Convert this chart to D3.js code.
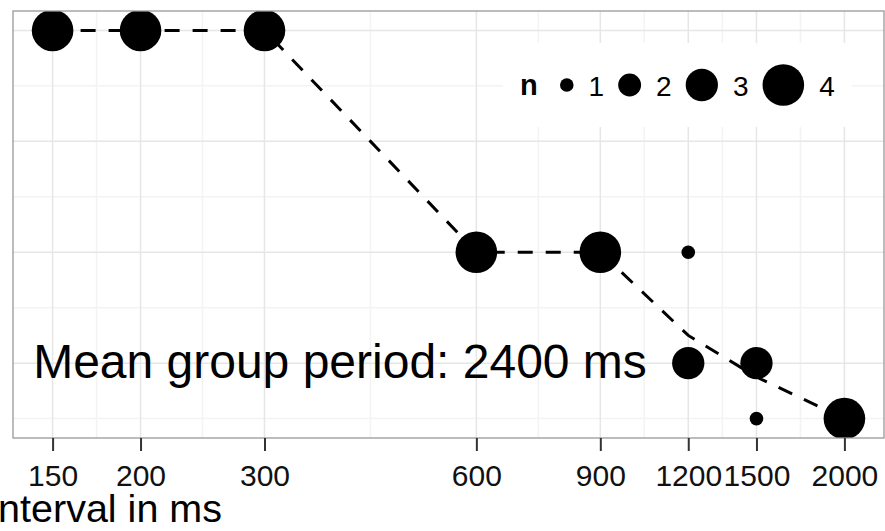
<!DOCTYPE html>
<html>
<head>
<meta charset="utf-8">
<script src="https://cdn.jsdelivr.net/npm/d3@7"></script>
<style>
  body { margin: 0; background: #fff; }
  svg { display: block; font-family: "Liberation Sans", Arial, sans-serif; }
</style>
</head>
<body>
<svg id="chart" width="885" height="531"></svg>
<script>
// data
const intervals = [150, 200, 300, 600, 900, 1200, 1200, 1500, 1500, 2000];
const groupLevel = [4, 4, 4, 2, 2, 2, 1, 1, 0.5, 0.5];
const counts = [4, 4, 4, 4, 4, 1, 3, 3, 1, 4];
const xTicks = [150, 200, 300, 600, 900, 1200, 1500, 2000];
const yMajor = [1, 2, 3, 4];
const yMinor = [0.5, 1.5, 2.5, 3.5];
const legendValues = [1, 2, 3, 4];
const annotation = "Mean group period: 2400 ms";
const xTitle = "Interval in ms";

const points = intervals.map((x, i) => ({ x: x, y: groupLevel[i], n: counts[i] }));

// weighted mean per interval -> dashed line
const meanLine = Array.from(
  d3.rollup(points, v => d3.sum(v, d => d.y * d.n) / d3.sum(v, d => d.n), d => d.x),
  ([x, y]) => ({ x, y })
).sort((a, b) => a.x - b.x);

const svg = d3.select("#chart");
const pLeft = 13, pRight = 884, pTop = 11, pBottom = 438;

// ggplot style 5% expansion in log space
const lx = d3.extent(intervals).map(Math.log);
const padX = (lx[1] - lx[0]) * 0.05;
const x = d3.scaleLog()
  .domain([Math.exp(lx[0] - padX), Math.exp(lx[1] + padX)])
  .range([pLeft, pRight]);

const ye = d3.extent(groupLevel);
const padY = (ye[1] - ye[0]) * 0.05;
const y = d3.scaleLinear().domain([ye[0] - padY, ye[1] + padY]).range([pBottom, pTop]);

const r = d3.scaleLinear().domain([1, 4]).range([6.8, 20.8]);

svg.append("defs").append("clipPath").attr("id", "panel")
  .append("rect").attr("x", pLeft).attr("y", pTop)
  .attr("width", pRight - pLeft).attr("height", pBottom - pTop);

const grid = svg.append("g");
// minor gridlines: midpoints in log space
const xMinor = d3.pairs(xTicks).map(([a, b]) => Math.sqrt(a * b));
grid.selectAll(".xminor").data(xMinor).enter().append("line")
  .attr("x1", d => x(d)).attr("x2", d => x(d)).attr("y1", pTop).attr("y2", pBottom)
  .attr("stroke", "#f3f3f3").attr("stroke-width", 1.5);
grid.selectAll(".yminor").data(yMinor).enter().append("line")
  .attr("y1", d => y(d)).attr("y2", d => y(d)).attr("x1", pLeft).attr("x2", pRight)
  .attr("stroke", "#f3f3f3").attr("stroke-width", 1.5);
grid.selectAll(".xmajor").data(xTicks).enter().append("line")
  .attr("x1", d => x(d)).attr("x2", d => x(d)).attr("y1", pTop).attr("y2", pBottom)
  .attr("stroke", "#e6e6e6").attr("stroke-width", 1.5);
grid.selectAll(".ymajor").data(yMajor).enter().append("line")
  .attr("y1", d => y(d)).attr("y2", d => y(d)).attr("x1", pLeft).attr("x2", pRight)
  .attr("stroke", "#e6e6e6").attr("stroke-width", 1.5);

const plot = svg.append("g").attr("clip-path", "url(#panel)");

plot.append("path")
  .datum(meanLine)
  .attr("fill", "none")
  .attr("stroke", "#000")
  .attr("stroke-width", 3)
  .attr("stroke-dasharray", "15,13")
  .attr("d", d3.line().x(d => x(d.x)).y(d => y(d.y)));

plot.selectAll(".dot").data(points).enter().append("circle")
  .attr("class", "dot")
  .attr("cx", d => x(d.x)).attr("cy", d => y(d.y))
  .attr("r", d => r(d.n))
  .attr("fill", "#000");

// annotation text
svg.append("text")
  .attr("x", 340).attr("y", 378)
  .attr("text-anchor", "middle")
  .attr("font-size", 48)
  .attr("fill", "#000")
  .text(annotation);

// legend inside the panel
const legend = svg.append("g");
legend.append("rect").attr("x", 503).attr("y", 43).attr("width", 349).attr("height", 84).attr("fill", "#fff");
legend.append("text").attr("x", 520).attr("y", 95)
  .attr("font-size", 29).attr("font-weight", "bold").text("n");
let cursor = 560;
legendValues.forEach(v => {
  const rr = r(v);
  legend.append("circle").attr("cx", cursor + rr).attr("cy", 85).attr("r", rr).attr("fill", "#000");
  const t = legend.append("text").attr("x", cursor + 2 * rr + 15).attr("y", 96)
    .attr("font-size", 28).attr("fill", "#000").text(v);
  cursor = cursor + 2 * rr + 15 + t.node().getComputedTextLength() + 14;
});

// panel border
svg.append("rect").attr("x", pLeft).attr("y", pTop)
  .attr("width", pRight - pLeft).attr("height", pBottom - pTop)
  .attr("fill", "none").attr("stroke", "#999").attr("stroke-width", 1.3);

// x axis
const xAxis = svg.append("g").attr("transform", `translate(0,${pBottom})`)
  .call(d3.axisBottom(x).tickValues(xTicks).tickFormat(d3.format("d")).tickSize(13).tickPadding(14));
xAxis.select(".domain").remove();
xAxis.selectAll(".tick line").attr("stroke", "#333").attr("stroke-width", 2);
xAxis.selectAll(".tick text").attr("font-size", 30).attr("fill", "#111")
  .attr("font-family", "Liberation Sans, Arial, sans-serif");

// axis title, its first letter runs off the left edge as in the source
svg.append("text")
  .attr("x", 222).attr("y", 522)
  .attr("text-anchor", "end")
  .attr("font-size", 39.5)
  .attr("fill", "#000")
  .text(xTitle);
</script>
</body>
</html>
